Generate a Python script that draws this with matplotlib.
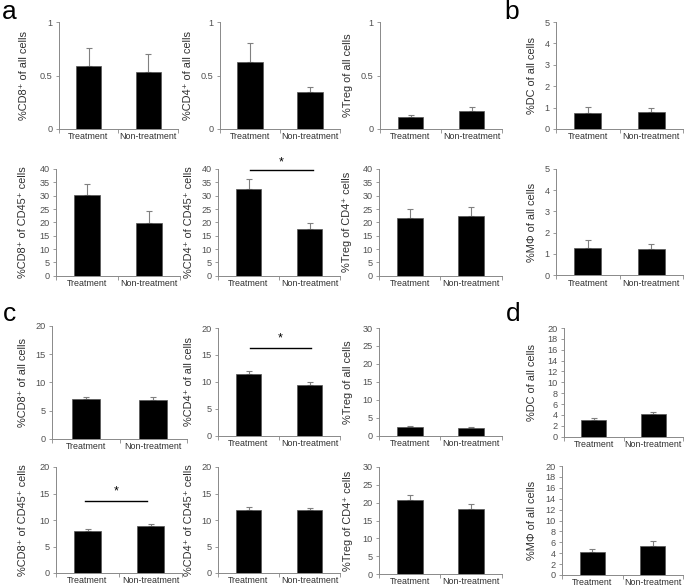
import matplotlib
matplotlib.use("Agg")
import matplotlib.pyplot as plt
from matplotlib.transforms import blended_transform_factory

plt.rcParams['font.family'] = ['Liberation Sans', 'DejaVu Sans']

categories = ['Treatment', 'Non-treatment']

# Panel a (top row): % of all cells
a_cd8_all = [0.59, 0.53]
a_cd8_all_err = [0.17, 0.17]
a_cd4_all = [0.63, 0.343]
a_cd4_all_err = [0.17, 0.047]
a_treg_all = [0.108, 0.165]
a_treg_all_err = [0.02, 0.038]
# Panel b (top): DC
b_dc_all = [0.73, 0.79]
b_dc_all_err = [0.31, 0.18]

# Panel a (second row)
a_cd8_cd45 = [30.2, 19.9]
a_cd8_cd45_err = [4.2, 4.2]
a_cd4_cd45 = [32.4, 17.4]
a_cd4_cd45_err = [3.8, 2.5]
a_treg_cd4 = [21.7, 22.5]
a_treg_cd4_err = [3.3, 3.3]
# Panel b (second row): macrophage
b_mf_all = [1.3, 1.22]
b_mf_all_err = [0.37, 0.27]

# Panel c (third row)
c_cd8_all = [7.1, 6.95]
c_cd8_all_err = [0.35, 0.4]
c_cd4_all = [11.4, 9.4]
c_cd4_all_err = [0.6, 0.5]
c_treg_all = [2.4, 2.1]
c_treg_all_err = [0.3, 0.2]
d_dc_all = [3.1, 4.2]
d_dc_all_err = [0.4, 0.4]

# Panel c (bottom row)
c_cd8_cd45 = [8.0, 8.8]
c_cd8_cd45_err = [0.3, 0.4]
c_cd4_cd45 = [11.8, 11.9]
c_cd4_cd45_err = [0.7, 0.35]
c_treg_cd4 = [20.7, 18.1]
c_treg_cd4_err = [1.5, 1.6]
d_mf_all = [4.2, 5.35]
d_mf_all_err = [0.55, 0.8]

ylabels = [
    ['%CD8⁺ of all cells', '%CD4⁺ of all cells', '%Treg of all cells', '%DC of all cells'],
    ['%CD8⁺ of CD45⁺ cells', '%CD4⁺ of CD45⁺ cells', '%Treg of CD4⁺ cells', '%MΦ of all cells'],
    ['%CD8⁺ of all cells', '%CD4⁺ of all cells', '%Treg of all cells', '%DC of all cells'],
    ['%CD8⁺ of CD45⁺ cells', '%CD4⁺ of CD45⁺ cells', '%Treg of CD4⁺ cells', '%MΦ of all cells'],
]
values = [
    [a_cd8_all, a_cd4_all, a_treg_all, b_dc_all],
    [a_cd8_cd45, a_cd4_cd45, a_treg_cd4, b_mf_all],
    [c_cd8_all, c_cd4_all, c_treg_all, d_dc_all],
    [c_cd8_cd45, c_cd4_cd45, c_treg_cd4, d_mf_all],
]
errors = [
    [a_cd8_all_err, a_cd4_all_err, a_treg_all_err, b_dc_all_err],
    [a_cd8_cd45_err, a_cd4_cd45_err, a_treg_cd4_err, b_mf_all_err],
    [c_cd8_all_err, c_cd4_all_err, c_treg_all_err, d_dc_all_err],
    [c_cd8_cd45_err, c_cd4_cd45_err, c_treg_cd4_err, d_mf_all_err],
]
yticks = [
    [[0, 0.5, 1], [0, 0.5, 1], [0, 0.5, 1], [0, 1, 2, 3, 4, 5]],
    [list(range(0, 41, 5)), list(range(0, 41, 5)), list(range(0, 41, 5)), [0, 1, 2, 3, 4, 5]],
    [[0, 5, 10, 15, 20], [0, 5, 10, 15, 20], [0, 5, 10, 15, 20, 25, 30], list(range(0, 21, 2))],
    [[0, 5, 10, 15, 20], [0, 5, 10, 15, 20], [0, 5, 10, 15, 20, 25, 30], list(range(0, 21, 2))],
]
ytick_fmt = [
    [['0', '0.5', '1'], ['0', '0.5', '1'], ['0', '0.5', '1'], None],
    [None, None, None, None],
    [None, None, None, None],
    [None, None, None, None],
]
# significance bars: (row, col) -> (y of line, y of star)
significance = {(1, 1): (39.5, 40.3), (2, 1): (16.2, 16.9), (3, 0): (13.6, 14.3)}
sig_span = {(1, 1): (0.03, 1.05), (2, 1): (0.02, 1.03), (3, 0): (-0.04, 0.95)}

# layout in pixels: (left, right, top, bottom), label x centre
W, H = 685, 588
boxes = [
    [(58.7, 178, 22, 129), (220, 340, 22, 129), (380, 502, 22, 129), (556, 683, 22, 129)],
    [(56, 180, 169, 275.7), (218, 340, 169, 275.7), (379, 502, 169, 275.7), (556, 683, 168.7, 275.3)],
    [(52, 187, 325.7, 439), (218, 340, 328, 435.7), (379, 502, 328, 435.7), (564, 683, 328, 436.7)],
    [(56, 182, 467, 573), (218, 340, 467, 573), (379, 502, 467, 574), (562, 683, 466, 575)],
]
label_x = [
    [29, 193, 353, 537],
    [28, 194, 352, 537],
    [28, 194, 353, 537],
    [28, 194, 353, 537],
]

fig = plt.figure(figsize=(W / 100, H / 100), dpi=100)

spine_c = '#898989'
tick_c = '#505050'
for r in range(4):
    for c in range(4):
        L, R, T, B = boxes[r][c]
        ax = fig.add_axes([L / W, 1 - B / H, (R - L) / W, (B - T) / H])
        x = [0, 1]
        v = values[r][c]
        e = errors[r][c]
        ax.bar(x, v, width=0.42, color='black', edgecolor='#555555', linewidth=0.5, zorder=2)
        ax.errorbar(x, v, yerr=[[0, 0], e], fmt='none', ecolor='#808080',
                    elinewidth=0.8, capsize=2.4, capthick=0.8, zorder=1)
        yt = yticks[r][c]
        ax.set_ylim(0, yt[-1])
        ax.set_xlim(-0.5, 1.5)
        ax.set_yticks(yt)
        if ytick_fmt[r][c] is not None:
            ax.set_yticklabels(ytick_fmt[r][c])
        ax.set_xticks(x)
        ax.set_xticklabels(categories)
        ax.set_xticks([-0.5, 0.5, 1.5], minor=True)
        ax.tick_params(axis='x', which='major', length=0, pad=2.5, labelsize=6.4, labelcolor='#303030')
        ax.tick_params(axis='x', which='minor', length=3, width=0.6, color=spine_c, direction='out')
        ax.tick_params(axis='y', length=2.5, width=0.6, color=spine_c, direction='out',
                       labelsize=6.6, labelcolor=tick_c, pad=2)
        for s in ['top', 'right']:
            ax.spines[s].set_visible(False)
        for s in ['left', 'bottom']:
            ax.spines[s].set_color(spine_c)
            ax.spines[s].set_linewidth(0.7)
        ax.set_ylabel(ylabels[r][c], fontsize=7.9, color='#303030')
        tr = blended_transform_factory(fig.transFigure, ax.transAxes)
        ax.yaxis.set_label_coords(label_x[r][c] / W, 0.5, transform=tr)
        if (r, c) in significance:
            ly, sy = significance[(r, c)]
            x0, x1 = sig_span[(r, c)]
            ax.plot([x0, x1], [ly, ly], color='black', lw=1.0, clip_on=False)
            ax.text((x0 + x1) / 2, sy, '*', ha='center', va='bottom', fontsize=9, clip_on=False)

for letter, px, py in [('a', 9, 12), ('b', 512, 12), ('c', 9, 314), ('d', 513, 314)]:
    fig.text(px / W, 1 - py / H, letter, fontsize=19, ha='center', va='center', color='black')

fig.savefig('out.png', dpi=100)
